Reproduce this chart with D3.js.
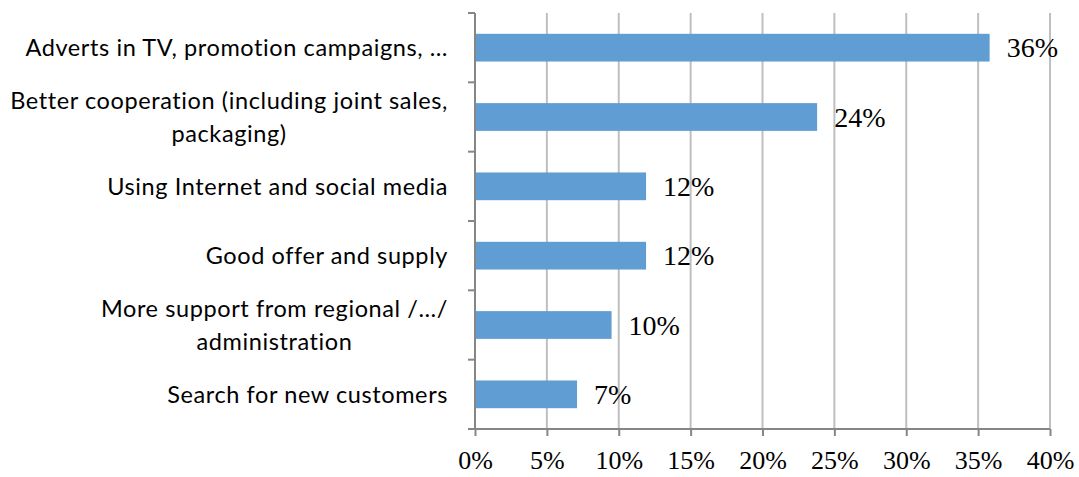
<!DOCTYPE html>
<html>
<head>
<meta charset="utf-8">
<script src="https://cdn.jsdelivr.net/npm/d3@7"></script>
<style>
  html, body { margin: 0; padding: 0; background: #fff; }
  svg { display: block; }
</style>
</head>
<body>
<svg id="chart" width="1079" height="477"></svg>
<script>
// Survey answers: measures to increase sales (share of respondents)
const categories = [
  ["Adverts in TV, promotion campaigns, …"],
  ["Better cooperation (including joint sales,", "packaging)"],
  ["Using Internet and social media"],
  ["Good offer and supply"],
  ["More support from regional /…/", "administration"],
  ["Search for new customers"]
];
const values = [0.358, 0.238, 0.119, 0.119, 0.095, 0.071];
const xTicks = [0, 0.05, 0.10, 0.15, 0.20, 0.25, 0.30, 0.35, 0.40];

const W = 1079, H = 477;
const margin = { top: 13, right: 29, bottom: 48, left: 475 };
const innerW = W - margin.left - margin.right;
const innerH = H - margin.top - margin.bottom;

const svg = d3.select("#chart");
const g = svg.append("g").attr("transform", `translate(${margin.left},${margin.top})`);

const x = d3.scaleLinear().domain([0, 0.40]).range([0, innerW]);
const idx = d3.range(categories.length);
const y = d3.scaleBand().domain(idx).range([0, innerH]).paddingInner(0.6).paddingOuter(0.3);

const pct = d3.format(".0%");
const serif = "'Liberation Serif', serif";

// vertical gridlines
g.append("g")
  .selectAll("line")
  .data(xTicks.slice(1))
  .join("line")
  .attr("x1", d => x(d)).attr("x2", d => x(d))
  .attr("y1", 0).attr("y2", innerH)
  .attr("stroke", "#bfbfbf").attr("stroke-width", 2);

// bars
g.append("g")
  .selectAll("rect")
  .data(idx)
  .join("rect")
  .attr("x", x(0))
  .attr("y", i => y(i))
  .attr("width", i => x(values[i]) - x(0))
  .attr("height", y.bandwidth())
  .attr("fill", "#5f9dd3");

// value labels
g.append("g")
  .selectAll("text")
  .data(idx)
  .join("text")
  .attr("x", i => x(values[i]) + 17)
  .attr("y", i => y(i) + y.bandwidth() / 2)
  .attr("dy", "0.35em")
  .attr("font-family", serif)
  .attr("font-size", 28)
  .attr("fill", "#000")
  .text(i => pct(Math.round(values[i] * 100) / 100));

// x axis
const xAxis = g.append("g")
  .attr("transform", `translate(0,${innerH})`)
  .call(d3.axisBottom(x).tickValues(xTicks).tickFormat(d3.format(".0%")).tickSize(7).tickPadding(15));
xAxis.select(".domain").attr("stroke", "#868686").attr("stroke-width", 2).attr("d", `M0,0H${innerW}`);
xAxis.selectAll(".tick line").attr("stroke", "#868686").attr("stroke-width", 2);
xAxis.selectAll(".tick text")
  .attr("font-family", serif)
  .attr("font-size", 26)
  .attr("fill", "#000");

// y axis line with ticks at category boundaries
const yAxis = g.append("g");
yAxis.append("line")
  .attr("x1", 0).attr("x2", 0).attr("y1", 0).attr("y2", innerH)
  .attr("stroke", "#868686").attr("stroke-width", 2);
yAxis.selectAll("line.tick")
  .data(d3.range(categories.length + 1))
  .join("line")
  .attr("class", "tick")
  .attr("x1", -7).attr("x2", 0)
  .attr("y1", k => k * innerH / categories.length)
  .attr("y2", k => k * innerH / categories.length)
  .attr("stroke", "#868686").attr("stroke-width", 2);

// category labels: block right-aligned, lines centred within block
const labelRight = -27;
const lineH = 33;
const labels = g.append("g")
  .attr("font-family", "Lato, 'Open Sans', sans-serif")
  .attr("font-size", 23.5)
  .attr("letter-spacing", 0.6)
  .attr("fill", "#000");

idx.forEach(i => {
  const lines = categories[i];
  const cy = y(i) + y.bandwidth() / 2;
  const grp = labels.append("g");
  const texts = lines.map((t, k) => grp.append("text")
    .attr("y", cy + (k - (lines.length - 1) / 2) * lineH)
    .attr("dy", "0.35em")
    .attr("text-anchor", "middle")
    .text(t));
  const maxW = d3.max(texts, tx => tx.node().getComputedTextLength());
  texts.forEach(tx => tx.attr("x", labelRight - maxW / 2));
});
</script>
</body>
</html>
